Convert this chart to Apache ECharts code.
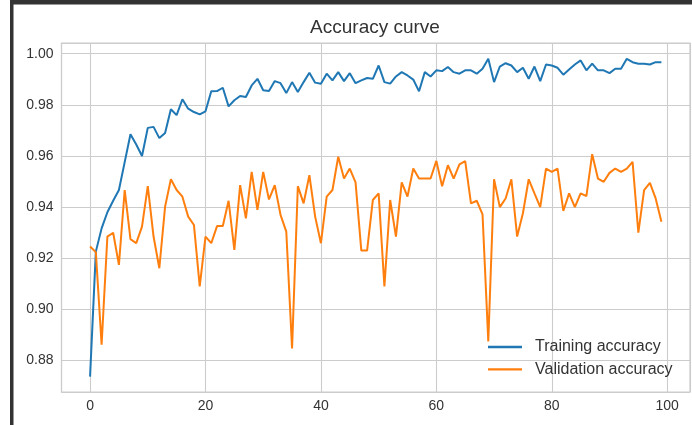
<!DOCTYPE html>
<html>
<head>
<meta charset="utf-8">
<script src="https://cdn.jsdelivr.net/npm/echarts@6/dist/echarts.min.js"></script>
<style>
html,body{margin:0;padding:0;background:#fff;}
#chart{width:692px;height:425px;}
</style>
</head>
<body>
<div id="chart"></div>
<script>
const epochs = Array.from({length: 100}, (_, i) => i);

const trainingAccuracy = [
  0.8737, 0.9226, 0.9317, 0.9380, 0.9425, 0.9467, 0.9576, 0.9685, 0.9645, 0.9600,
  0.9710, 0.9714, 0.9670, 0.9690, 0.9783, 0.9760, 0.9822, 0.9785, 0.9772, 0.9763,
  0.9775, 0.9853, 0.9854, 0.9867, 0.9794, 0.9818, 0.9835, 0.9831, 0.9876, 0.9902,
  0.9857, 0.9854, 0.9893, 0.9885, 0.9846, 0.9889, 0.9850, 0.9889, 0.9926, 0.9887,
  0.9883, 0.9922, 0.9896, 0.9928, 0.9893, 0.9924, 0.9885, 0.9896, 0.9905, 0.9902,
  0.9954, 0.9889, 0.9883, 0.9911, 0.9928, 0.9915, 0.9899, 0.9853, 0.9928, 0.9911,
  0.9935, 0.9932, 0.9948, 0.9928, 0.9922, 0.9935, 0.9935, 0.9922, 0.9941, 0.9980,
  0.9889, 0.9950, 0.9963, 0.9954, 0.9928, 0.9945, 0.9902, 0.9950, 0.9893, 0.9958,
  0.9954, 0.9945, 0.9918, 0.9938, 0.9958, 0.9974, 0.9935, 0.9961, 0.9935, 0.9935,
  0.9924, 0.9941, 0.9941, 0.9980, 0.9967, 0.9961, 0.9961, 0.9958, 0.9967, 0.9967
];

const validationAccuracy = [
  0.9246, 0.9224, 0.8862, 0.9285, 0.9300, 0.9174, 0.9467, 0.9275, 0.9259, 0.9324,
  0.9482, 0.9285, 0.9161, 0.9402, 0.9509, 0.9467, 0.9441, 0.9363, 0.9330, 0.9090,
  0.9285, 0.9259, 0.9326, 0.9326, 0.9425, 0.9233, 0.9486, 0.9356, 0.9538, 0.9389,
  0.9538, 0.9430, 0.9486, 0.9370, 0.9304, 0.8847, 0.9482, 0.9415, 0.9525, 0.9363,
  0.9259, 0.9441, 0.9467, 0.9597, 0.9512, 0.9551, 0.9497, 0.9230, 0.9230, 0.9428,
  0.9454, 0.9090, 0.9428, 0.9285, 0.9497, 0.9441, 0.9551, 0.9512, 0.9512, 0.9512,
  0.9581, 0.9482, 0.9564, 0.9512, 0.9567, 0.9580, 0.9415, 0.9425, 0.9372, 0.8875,
  0.9509, 0.9400, 0.9434, 0.9509, 0.9285, 0.9376, 0.9509, 0.9454, 0.9400, 0.9551,
  0.9538, 0.9551, 0.9385, 0.9454, 0.9400, 0.9454, 0.9443, 0.9607, 0.9512, 0.9499,
  0.9534, 0.9551, 0.9538, 0.9551, 0.9577, 0.9300, 0.9467, 0.9495, 0.9434, 0.9343
];

const titleText = 'Accuracy curve';
const seriesNames = ['Training accuracy', 'Validation accuracy'];
const seriesColors = ['#1f77b4', '#ff7f0e'];

const font = '"Liberation Sans", Arial, Helvetica, sans-serif';
const textColor = '#333333';
const gridColor = '#cccccc';

const chart = echarts.init(document.getElementById('chart'), null, {renderer: 'canvas'});

chart.setOption({
  backgroundColor: '#ffffff',
  animation: false,
  title: {
    text: titleText,
    left: 370,
    textAlign: 'center',
    top: 13,
    textStyle: {fontFamily: font, fontSize: 19, fontWeight: 'normal', color: textColor}
  },
  legend: {
    orient: 'vertical',
    left: 483,
    top: 333,
    padding: 5,
    itemWidth: 34,
    itemHeight: 2.4,
    itemGap: 4.4,
    icon: 'rect',
    textStyle: {fontFamily: font, fontSize: 16, color: textColor, lineHeight: 18, padding: [0, 0, 0, 8]},
    data: seriesNames
  },
  grid: {
    left: 61.5, right: 2, top: 43, bottom: 33,
    show: true, borderColor: gridColor, borderWidth: 1.25, backgroundColor: 'transparent'
  },
  xAxis: {
    type: 'value',
    min: -4.95, max: 103.95,
    splitNumber: 5, minInterval: 20, maxInterval: 20,
    axisLine: {show: false},
    axisTick: {show: false},
    splitLine: {show: true, lineStyle: {color: gridColor, width: 1.1}},
    axisLabel: {
      showMinLabel: false, showMaxLabel: false,
      margin: 7,
      fontFamily: font, fontSize: 14, color: textColor
    }
  },
  yAxis: {
    type: 'value',
    min: 0.8677, max: 1.0042,
    splitNumber: 7, minInterval: 0.02, maxInterval: 0.02,
    axisLine: {show: false},
    axisTick: {show: false},
    splitLine: {show: true, lineStyle: {color: gridColor, width: 1.1}},
    axisLabel: {
      showMinLabel: false, showMaxLabel: false,
      margin: 8,
      fontFamily: font, fontSize: 14, color: textColor,
      formatter: v => v.toFixed(2)
    }
  },
  series: [
    {
      name: seriesNames[0], type: 'line', symbol: 'none',
      data: epochs.map((e, i) => [e, trainingAccuracy[i]]),
      itemStyle: {color: seriesColors[0]},
      lineStyle: {color: seriesColors[0], width: 2},
      z: 3
    },
    {
      name: seriesNames[1], type: 'line', symbol: 'none',
      data: epochs.map((e, i) => [e, validationAccuracy[i]]),
      itemStyle: {color: seriesColors[1]},
      lineStyle: {color: seriesColors[1], width: 2},
      z: 4
    }
  ],
  graphic: [
    {type: 'rect', shape: {x: 10, y: 0, width: 682, height: 4.5}, style: {fill: '#333333'}, silent: true},
    {type: 'rect', shape: {x: 10, y: 0, width: 3.5, height: 425}, style: {fill: '#333333'}, silent: true}
  ]
});
</script>
</body>
</html>
